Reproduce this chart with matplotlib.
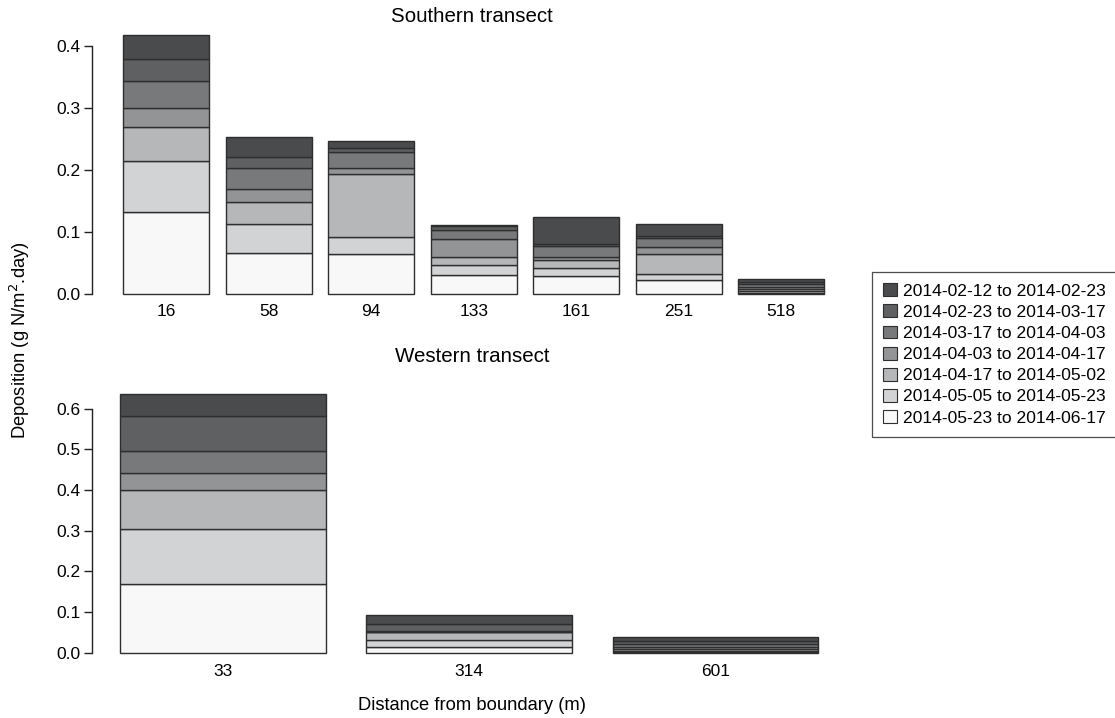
import matplotlib
matplotlib.use("Agg")
import matplotlib.pyplot as plt
from matplotlib.patches import Patch
import numpy as np

plt.rcParams['font.family'] = ['Liberation Sans', 'DejaVu Sans']

periods = [
    "2014-02-12 to 2014-02-23",
    "2014-02-23 to 2014-03-17",
    "2014-03-17 to 2014-04-03",
    "2014-04-03 to 2014-04-17",
    "2014-04-17 to 2014-05-02",
    "2014-05-05 to 2014-05-23",
    "2014-05-23 to 2014-06-17",
]
period_colors = ["#4a4b4d", "#5f6062", "#78797b", "#939496",
                 "#b6b7b9", "#d2d3d5", "#f8f8f8"]

# Southern transect, distance (m) from boundary
south_sites = ["16", "58", "94", "133", "161", "251", "518"]
south_feb12_feb23 = [0.039, 0.0315, 0.011, 0.003, 0.0447, 0.0189, 0.005]
south_feb23_mar17 = [0.036, 0.0175, 0.0065, 0.005, 0.002, 0.0032, 0.004]
south_mar17_apr03 = [0.043, 0.035, 0.0245, 0.0153, 0.019, 0.0145, 0.004]
south_apr03_apr17 = [0.031, 0.021, 0.010, 0.029, 0.0042, 0.0113, 0.0035]
south_apr17_may02 = [0.0545, 0.0345, 0.102, 0.0129, 0.0128, 0.0323, 0.0035]
south_may05_may23 = [0.0815, 0.0475, 0.0275, 0.0168, 0.013, 0.0106, 0.0025]
south_may23_jun17 = [0.133, 0.066, 0.0645, 0.030, 0.029, 0.022, 0.002]

# Western transect, distance (m) from boundary
west_sites = ["33", "314", "601"]
west_feb12_feb23 = [0.055, 0.0229, 0.009]
west_feb23_mar17 = [0.086, 0.0177, 0.008]
west_mar17_apr03 = [0.055, 0.001, 0.007]
west_apr03_apr17 = [0.041, 0.001, 0.005]
west_apr17_may02 = [0.097, 0.0189, 0.004]
west_may05_may23 = [0.133, 0.019, 0.003]
west_may23_jun17 = [0.170, 0.013, 0.0015]

south_series = [south_feb12_feb23, south_feb23_mar17, south_mar17_apr03,
                south_apr03_apr17, south_apr17_may02, south_may05_may23,
                south_may23_jun17]
west_series = [west_feb12_feb23, west_feb23_mar17, west_mar17_apr03,
               west_apr03_apr17, west_apr17_may02, west_may05_may23,
               west_may23_jun17]

W, H = 1115, 718
fig = plt.figure(figsize=(W / 100, H / 100), dpi=100)


def px_axes(left, top, right, bottom):
    return fig.add_axes([left / W, 1 - bottom / H, (right - left) / W, (bottom - top) / H])


def stacked(ax, sites, series):
    x = np.arange(len(sites))
    base = np.zeros(len(sites))
    # earliest period on top, latest at the bottom
    for vals, col in zip(reversed(series), reversed(period_colors)):
        v = np.array(vals)
        ax.bar(x, v, bottom=base, width=0.835, color=col,
               edgecolor="#2e2e2e", linewidth=1.0)
        base += v
    ax.set_xticks(x)
    ax.set_xticklabels(sites, fontsize=12.5)
    ax.tick_params(axis="x", length=0, pad=3)
    ax.tick_params(axis="y", labelsize=12.5, length=6, width=1.0, color="#222222", pad=2)
    for s in ("top", "right", "bottom"):
        ax.spines[s].set_visible(False)
    ax.spines["left"].set_linewidth(1.0)
    ax.spines["left"].set_color("#222222")


# Southern transect
ax1 = px_axes(92, 30, 852, 300)
stacked(ax1, south_sites, south_series)
ax1.set_xlim(-0.724, 6.69)
ax1.set_ylim(-0.0097, 0.4258)
ax1.set_yticks([0.0, 0.1, 0.2, 0.3, 0.4])
ax1.set_yticklabels(["0.0", "0.1", "0.2", "0.3", "0.4"])
ax1.spines["left"].set_bounds(0.0, 0.4)
ax1.set_title("Southern transect", fontsize=14.8, pad=6)

# Western transect
ax2 = px_axes(92, 380, 852, 660)
stacked(ax2, west_sites, west_series)
ax2.set_xlim(-0.531, 2.554)
ax2.set_ylim(-0.018, 0.6705)
ax2.set_yticks([0.0, 0.1, 0.2, 0.3, 0.4, 0.5, 0.6])
ax2.set_yticklabels(["0.0", "0.1", "0.2", "0.3", "0.4", "0.5", "0.6"])
ax2.spines["left"].set_bounds(0.0, 0.6)
ax2.set_title("Western transect", fontsize=14.8, pad=13)

fig.text(20 / W, 1 - 340 / H, "Deposition (g N/m$^{2}$.day)", rotation=90,
         ha="center", va="center", fontsize=13.2)
fig.text(472 / W, 1 - 706 / H, "Distance from boundary (m)",
         ha="center", va="center", fontsize=13.2)

handles = [Patch(facecolor=c, edgecolor="#2e2e2e", linewidth=0.8) for c in period_colors]
leg = fig.legend(handles, periods, loc="upper left",
                 bbox_to_anchor=(872 / W, 1 - 272 / H), fontsize=12.6,
                 frameon=True, fancybox=False, handlelength=0.75,
                 handleheight=0.75, handletextpad=0.35, labelspacing=0.32,
                 borderpad=0.65, borderaxespad=0)
leg.get_frame().set_edgecolor("#222222")
leg.get_frame().set_linewidth(0.9)

fig.savefig("out.png", dpi=100)
